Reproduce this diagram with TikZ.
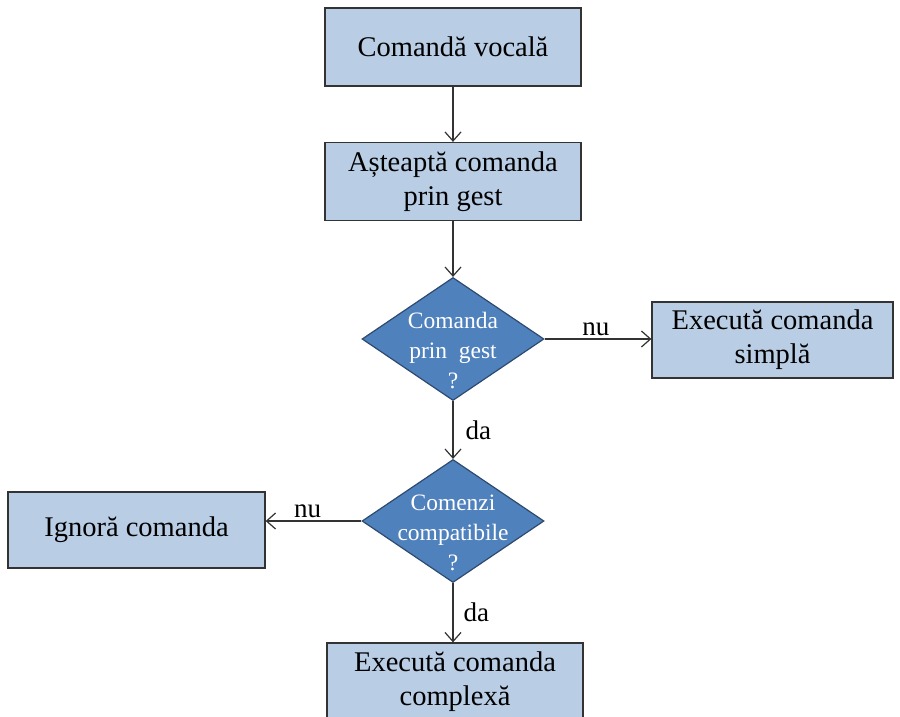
\documentclass[tikz,border=0pt]{standalone}
\usepackage{fontspec}
\setmainfont{Liberation Serif}
\usetikzlibrary{shapes.geometric,arrows.meta}
\definecolor{boxfill}{HTML}{B9CDE5}
\definecolor{decfill}{HTML}{4F81BD}
\definecolor{decline}{HTML}{2E4A6E}
\definecolor{edge}{HTML}{333333}
\begin{document}
\begin{tikzpicture}[x=1pt,y=-1pt,
  stepbox/.style={draw=edge, line width=1.3pt, fill=boxfill, rectangle,
    minimum width=256pt, minimum height=78pt, inner sep=0pt, align=center,
    font=\fontsize{28.5}{34}\selectfont},
  decision/.style={draw=decline, line width=1.2pt, fill=decfill, diamond,
    minimum width=182pt, minimum height=123pt, inner sep=0pt},
  dtext/.style={text=white, align=center, font=\fontsize{23.5}{30}\selectfont,
    yshift=-12pt},
  flow/.style={draw=edge, line width=1.2pt,
    -{Straight Barb[length=9pt,width=16pt,line width=1.2pt]}},
  lbl/.style={font=\fontsize{27}{32}\selectfont, inner sep=3pt}]
\useasboundingbox (0,0) rectangle (900,716);
\clip (0,0) rectangle (900,716);

% process steps
\node[stepbox] (vocal) at (453,47) {Comandă vocală};
\node[stepbox] (wait) at (453,181.5) {Așteaptă comanda\\prin gest};
\node[stepbox, minimum width=241pt, minimum height=76pt] (simple) at (772.5,340) {Execută comanda\\simplă};
\node[stepbox, minimum width=257pt, minimum height=76pt] (ignore) at (136.5,530) {Ignoră comanda};
\node[stepbox] (complex) at (455,682) {Execută comanda\\complexă};

% decisions
\node[decision, label={[dtext]center:{Comanda\\prin\ \ gest\\?}}] (isgest) at (453,339) {};
\node[decision, label={[dtext]center:{Comenzi\\compatibile\\?}}] (compat) at (453,521) {};

% connectors
\draw[flow] (vocal) -- (wait);
\draw[flow] (wait) -- (isgest);
\draw[flow] (isgest) -- node[lbl, above, xshift=-2pt] {nu} (isgest -| simple.west);
\draw[flow] (isgest) -- node[lbl, right, xshift=9pt] {da} (compat);
\draw[flow] (compat) -- node[lbl, above, xshift=-6pt] {nu} (compat -| ignore.east);
\draw[flow] (compat) -- node[lbl, right, xshift=7pt] {da} (compat |- complex.north);
\end{tikzpicture}
\end{document}
